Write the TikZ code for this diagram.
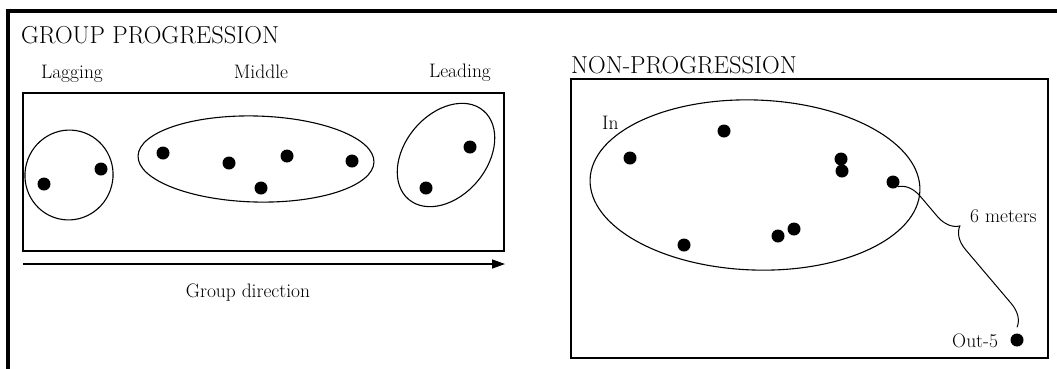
\documentclass[tikz,border=0pt]{standalone}
\usetikzlibrary{decorations.pathreplacing,arrows.meta,shapes.geometric}
\begin{document}
\begin{tikzpicture}[x=1pt,y=-1pt,
  dot/.style={fill=black,circle,inner sep=0pt,minimum size=13pt},
  lbl/.style={font=\fontsize{19.5}{22}\selectfont,inner sep=0pt},
  ttl/.style={font=\fontsize{24.5}{28}\selectfont,inner sep=0pt},
  grp/.style={draw,ellipse,inner sep=0pt,line width=1.1pt},
  box/.style={draw,line width=1.3pt}]
\useasboundingbox (0,0) rectangle (1057,368);
\clip (0,0) rectangle (1057,368);
% outer frame
\draw[line width=3.5pt] (8,420) -- (8,11) -- (1100,11);
% ---------- left panel ----------
\node[ttl,anchor=base west] (t1) at (21,43) {GROUP PROGRESSION};
\node[lbl,anchor=base] (lag) at (72,78) {Lagging};
\node[lbl,anchor=base] (mid) at (261,78) {Middle};
\node[lbl,anchor=base] (lead) at (460,77) {Leading};
\draw[box] (23,93) rectangle (504,251);
\node[grp,minimum width=88pt,minimum height=90pt,rotate=-15] (eLag) at (69,175) {};
\node[grp,minimum width=236pt,minimum height=86pt,rotate=-1.5] (eMid) at (256,159) {};
\node[grp,minimum width=116pt,minimum height=82pt,rotate=50] (eLead) at (446,155) {};
\node[dot] (a1) at (44,184) {};
\node[dot] (a2) at (101,169) {};
\node[dot] (b1) at (163,153) {};
\node[dot] (b2) at (229,163) {};
\node[dot] (b3) at (287,156) {};
\node[dot] (b4) at (261,188) {};
\node[dot] (b5) at (352,161) {};
\node[dot] (c1) at (470,147) {};
\node[dot] (c2) at (426,188) {};
\coordinate (arS) at (23,264);
\coordinate (arE) at (505,264);
\draw[line width=1.4pt,-{Triangle[length=13pt,width=9pt]}] (arS) -- (arE);
\node[lbl,anchor=base] (gd) at (248,297) {Group direction};
% ---------- right panel ----------
\node[ttl,anchor=base west] (t2) at (571,73) {NON-PROGRESSION};
\draw[box] (571,79) rectangle (1048,358);
\node[grp,minimum width=330pt,minimum height=170pt,rotate=-2] (eIn) at (755,185) {};
\node[lbl,anchor=base west] (in) at (602,129) {In};
\node[dot] (r1) at (630,158) {};
\node[dot] (r2) at (724,131) {};
\node[dot] (r3) at (841,159) {};
\node[dot] (r4) at (842,171) {};
\node[dot] (r5) at (893,182) {};
\node[dot] (r6) at (684,245) {};
\node[dot] (r7) at (778,236) {};
\node[dot] (r8) at (794,229) {};
\node[dot] (out) at (1017,340) {};
\draw[line width=1pt,decorate,decoration={brace,amplitude=22pt,aspect=0.38}]
  (r5.south east) -- ([yshift=6pt]out.north);
\node[lbl,anchor=base west] (six) at (970,222) {6 meters};
\node[lbl,anchor=base west] (o5) at (952,347) {Out-5};
\end{tikzpicture}
\end{document}
